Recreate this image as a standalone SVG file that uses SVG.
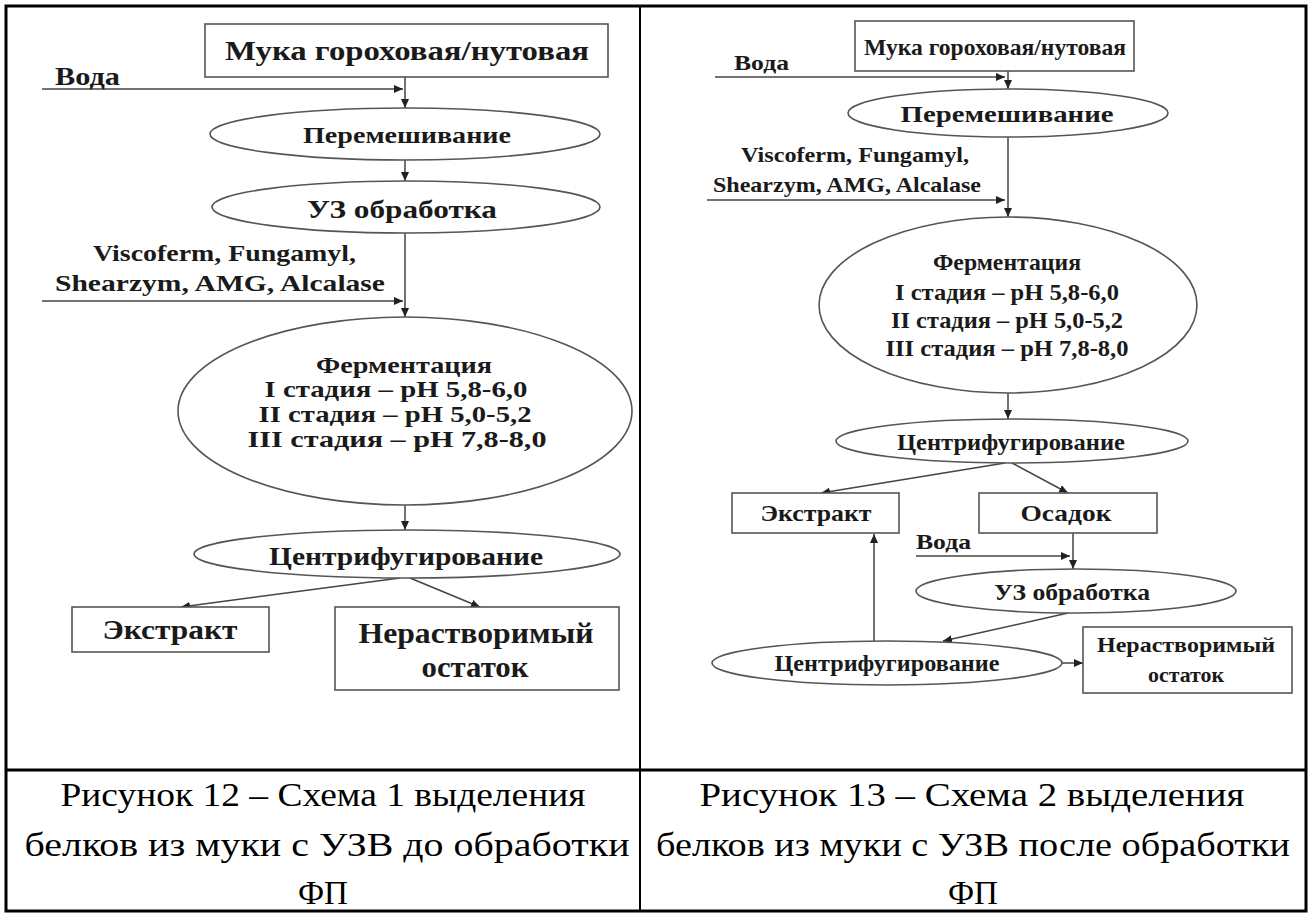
<svg xmlns="http://www.w3.org/2000/svg" width="1312" height="913" viewBox="0 0 1312 913">
<style>
.t{font-family:"Liberation Serif","Times New Roman",serif;font-weight:bold;fill:#1a1a1a;text-anchor:middle}
.tl{font-family:"Liberation Serif","Times New Roman",serif;font-weight:bold;fill:#1a1a1a;text-anchor:start}
.cap{font-family:"Liberation Serif","Times New Roman",serif;font-size:33px;fill:#000;text-anchor:middle}
.shape{fill:#fff;stroke:#555;stroke-width:1.6}
.ln{fill:none;stroke:#444;stroke-width:1.5;marker-end:url(#ah)}
.frame{fill:none;stroke:#000}
</style>
<defs>
<marker id="ah" markerWidth="9" markerHeight="8" refX="9" refY="4" orient="auto" markerUnits="userSpaceOnUse">
<path d="M0,0 L9,4 L0,8 Z" fill="#222"/>
</marker>
</defs>
<rect width="1312" height="913" fill="#fff"/>
<g id="table">
<rect class="frame" x="6" y="6" width="1300" height="905" stroke-width="3"/>
<line class="frame" x1="640" y1="6" x2="640" y2="911" stroke-width="2"/>
<line class="frame" x1="6" y1="770" x2="1306" y2="770" stroke-width="3"/>
</g>
<g id="connectors">
<line class="ln" x1="42" y1="89" x2="403" y2="89"/>
<line class="ln" x1="405" y1="77" x2="405" y2="108"/>
<line class="ln" x1="405" y1="160" x2="405" y2="181"/>
<line class="ln" x1="42" y1="301" x2="403" y2="301"/>
<line class="ln" x1="405" y1="233" x2="405" y2="317"/>
<line class="ln" x1="405" y1="505" x2="405" y2="530"/>
<line class="ln" x1="400" y1="578" x2="181" y2="607"/>
<line class="ln" x1="410" y1="578" x2="480" y2="607"/>
<line class="ln" x1="715" y1="77" x2="1005" y2="77"/>
<line class="ln" x1="1008" y1="71" x2="1008" y2="89"/>
<line class="ln" x1="707" y1="200" x2="1005" y2="200"/>
<line class="ln" x1="1008" y1="137" x2="1008" y2="217"/>
<line class="ln" x1="1008" y1="393" x2="1008" y2="419"/>
<line class="ln" x1="1005" y1="463" x2="821" y2="493"/>
<line class="ln" x1="1012" y1="463" x2="1068" y2="493"/>
<line class="ln" x1="916" y1="556" x2="1070" y2="556"/>
<line class="ln" x1="1073" y1="533" x2="1073" y2="569"/>
<line class="ln" x1="1068" y1="613" x2="943" y2="641"/>
<line class="ln" x1="874" y1="641" x2="874" y2="534"/>
<line class="ln" x1="1062" y1="663" x2="1083" y2="663"/>
</g>
<g id="L_muka">
<rect class="shape" x="205" y="24" width="403" height="53"/>
<text class="t" x="407" y="60" font-size="28" textLength="364" lengthAdjust="spacingAndGlyphs">Мука гороховая/нутовая</text>
</g>
<g id="L_voda"><text class="tl" x="55" y="85" font-size="25" textLength="65" lengthAdjust="spacingAndGlyphs">Вода</text></g>
<g id="L_mix">
<ellipse class="shape" cx="405" cy="134" rx="195" ry="26"/>
<text class="t" x="407" y="143" font-size="24" textLength="208" lengthAdjust="spacingAndGlyphs">Перемешивание</text>
</g>
<g id="L_uz">
<ellipse class="shape" cx="406" cy="207" rx="194" ry="26"/>
<text class="t" x="402" y="218" font-size="25" textLength="190" lengthAdjust="spacingAndGlyphs">УЗ обработка</text>
</g>
<g id="L_enz">
<text class="tl" x="93" y="261" font-size="24" textLength="263" lengthAdjust="spacingAndGlyphs">Viscoferm, Fungamyl,</text>
<text class="tl" x="55" y="291" font-size="24" textLength="330" lengthAdjust="spacingAndGlyphs">Shearzym, AMG, Alcalase</text>
</g>
<g id="L_ferm">
<ellipse class="shape" cx="405" cy="411" rx="227" ry="94"/>
<text class="t" x="404" y="373" font-size="24" textLength="176" lengthAdjust="spacingAndGlyphs">Ферментация</text>
<text class="t" x="396" y="397" font-size="24" textLength="263" lengthAdjust="spacingAndGlyphs">I стадия – pH 5,8-6,0</text>
<text class="t" x="395" y="422" font-size="24" textLength="273" lengthAdjust="spacingAndGlyphs">II стадия – pH 5,0-5,2</text>
<text class="t" x="397" y="447" font-size="24" textLength="299" lengthAdjust="spacingAndGlyphs">III стадия – pH 7,8-8,0</text>
</g>
<g id="L_centr">
<ellipse class="shape" cx="407" cy="554" rx="213" ry="24"/>
<text class="t" x="406" y="565" font-size="26" textLength="274" lengthAdjust="spacingAndGlyphs">Центрифугирование</text>
</g>
<g id="L_extr">
<rect class="shape" x="72" y="607" width="197" height="45"/>
<text class="t" x="170" y="639" font-size="28" textLength="135" lengthAdjust="spacingAndGlyphs">Экстракт</text>
</g>
<g id="L_ost">
<rect class="shape" x="335" y="607" width="284" height="83"/>
<text class="t" x="476" y="643" font-size="29" textLength="235" lengthAdjust="spacingAndGlyphs">Нерастворимый</text>
<text class="t" x="475" y="677" font-size="29" textLength="107" lengthAdjust="spacingAndGlyphs">остаток</text>
</g>
<g id="R_muka">
<rect class="shape" x="855" y="21" width="279" height="50"/>
<text class="t" x="995" y="55" font-size="24" textLength="262" lengthAdjust="spacingAndGlyphs">Мука гороховая/нутовая</text>
</g>
<g id="R_voda"><text class="tl" x="734" y="70" font-size="22" textLength="55" lengthAdjust="spacingAndGlyphs">Вода</text></g>
<g id="R_mix">
<ellipse class="shape" cx="1008" cy="113" rx="160" ry="24"/>
<text class="t" x="1007" y="122" font-size="23" textLength="213" lengthAdjust="spacingAndGlyphs">Перемешивание</text>
</g>
<g id="R_enz">
<text class="tl" x="741" y="162" font-size="22" textLength="228" lengthAdjust="spacingAndGlyphs">Viscoferm, Fungamyl,</text>
<text class="tl" x="713" y="192" font-size="22" textLength="268" lengthAdjust="spacingAndGlyphs">Shearzym, AMG, Alcalase</text>
</g>
<g id="R_ferm">
<ellipse class="shape" cx="1008" cy="305" rx="189" ry="88"/>
<text class="t" x="1007" y="270" font-size="23" textLength="148" lengthAdjust="spacingAndGlyphs">Ферментация</text>
<text class="t" x="1007" y="300" font-size="23" textLength="224" lengthAdjust="spacingAndGlyphs">I стадия – pH 5,8-6,0</text>
<text class="t" x="1007" y="328" font-size="23" textLength="232" lengthAdjust="spacingAndGlyphs">II стадия – pH 5,0-5,2</text>
<text class="t" x="1007" y="356" font-size="23" textLength="243" lengthAdjust="spacingAndGlyphs">III стадия – pH 7,8-8,0</text>
</g>
<g id="R_centr1">
<ellipse class="shape" cx="1012" cy="441" rx="176" ry="22"/>
<text class="t" x="1011" y="450" font-size="23" textLength="228" lengthAdjust="spacingAndGlyphs">Центрифугирование</text>
</g>
<g id="R_extr">
<rect class="shape" x="732" y="493" width="167" height="40"/>
<text class="t" x="816" y="521" font-size="23" textLength="111" lengthAdjust="spacingAndGlyphs">Экстракт</text>
</g>
<g id="R_osad">
<rect class="shape" x="979" y="493" width="178" height="40"/>
<text class="t" x="1066" y="521" font-size="24" textLength="91" lengthAdjust="spacingAndGlyphs">Осадок</text>
</g>
<g id="R_voda2"><text class="tl" x="916" y="549" font-size="22" textLength="55" lengthAdjust="spacingAndGlyphs">Вода</text></g>
<g id="R_uz">
<ellipse class="shape" cx="1076" cy="591" rx="160" ry="22"/>
<text class="t" x="1072" y="600" font-size="23" textLength="156" lengthAdjust="spacingAndGlyphs">УЗ обработка</text>
</g>
<g id="R_centr2">
<ellipse class="shape" cx="887" cy="663" rx="175" ry="22"/>
<text class="t" x="887" y="671" font-size="23" textLength="225" lengthAdjust="spacingAndGlyphs">Центрифугирование</text>
</g>
<g id="R_ost">
<rect class="shape" x="1083" y="627" width="209" height="66"/>
<text class="t" x="1186" y="652" font-size="22" textLength="178" lengthAdjust="spacingAndGlyphs">Нерастворимый</text>
<text class="t" x="1186" y="682" font-size="22" textLength="76" lengthAdjust="spacingAndGlyphs">остаток</text>
</g>
<g id="captions">
<text class="cap" x="323" y="806" textLength="525" lengthAdjust="spacingAndGlyphs">Рисунок 12 – Схема 1 выделения</text>
<text class="cap" x="327" y="856" textLength="605" lengthAdjust="spacingAndGlyphs">белков из муки с УЗВ до обработки</text>
<text class="cap" x="323" y="904">ФП</text>
<text class="cap" x="972" y="806" textLength="545" lengthAdjust="spacingAndGlyphs">Рисунок 13 – Схема 2 выделения</text>
<text class="cap" x="973" y="856" textLength="634" lengthAdjust="spacingAndGlyphs">белков из муки с УЗВ после обработки</text>
<text class="cap" x="973" y="904">ФП</text>
</g>
</svg>
